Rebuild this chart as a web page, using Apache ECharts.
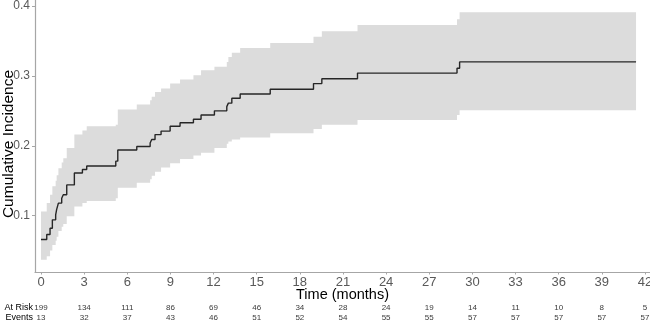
<!DOCTYPE html>
<html>
<head>
<meta charset="utf-8">
<script src="https://cdn.jsdelivr.net/npm/echarts@6/dist/echarts.min.js"></script>
<style>html,body{margin:0;padding:0;background:#fff}#c{width:650px;height:323px}</style>
</head>
<body>
<div id="c"></div>
<script>
// Step times (months) and values
const times    = [0, 0.40, 0.63, 0.79, 1.02, 1.09, 1.21, 1.44, 1.55, 1.79, 2.32, 2.88, 3.18, 5.20, 5.34, 6.66, 7.59, 7.70, 7.93, 8.35, 8.98, 9.67, 10.6, 11.13, 12.06, 12.92, 13.03, 13.27, 13.85, 15.94, 18.95, 19.53, 22.01, 28.93, 29.11, 41.38];
const estimate = [0.066, 0.073, 0.082, 0.094, 0.101, 0.109, 0.118, 0.125, 0.130, 0.144, 0.161, 0.166, 0.171, 0.178, 0.194, 0.199, 0.204, 0.209, 0.216, 0.221, 0.228, 0.233, 0.238, 0.244, 0.250, 0.256, 0.261, 0.268, 0.274, 0.281, 0.289, 0.296, 0.304, 0.311, 0.320, 0.320];
const lower    = [0.037, 0.042, 0.050, 0.058, 0.064, 0.070, 0.078, 0.084, 0.088, 0.099, 0.113, 0.118, 0.121, 0.125, 0.140, 0.147, 0.152, 0.157, 0.163, 0.169, 0.175, 0.181, 0.186, 0.190, 0.197, 0.203, 0.206, 0.209, 0.212, 0.218, 0.224, 0.230, 0.237, 0.244, 0.251, 0.251];
const upper    = [0.106, 0.118, 0.130, 0.142, 0.150, 0.158, 0.168, 0.176, 0.182, 0.197, 0.216, 0.222, 0.228, 0.230, 0.252, 0.259, 0.265, 0.270, 0.277, 0.282, 0.289, 0.295, 0.301, 0.308, 0.313, 0.320, 0.327, 0.333, 0.340, 0.347, 0.356, 0.364, 0.373, 0.381, 0.391, 0.391];

// Risk table
const riskTimes = [0, 3, 6, 9, 12, 15, 18, 21, 24, 27, 30, 33, 36, 39, 42];
const atRisk    = [199, 134, 111, 86, 69, 46, 34, 28, 24, 19, 14, 11, 10, 8, 5];
const events    = [13, 32, 37, 43, 46, 51, 52, 54, 55, 55, 57, 57, 57, 57, 57];
const riskRows  = ['Events', 'At Risk'];

// Tick labels
const xTicks = [0, 3, 6, 9, 12, 15, 18, 21, 24, 27, 30, 33, 36, 39, 42];
const yTicks = [0.1, 0.2, 0.3, 0.4];

const XMIN = -0.417, XMAX = 42.35, YMIN = 0.0194, YMAX = 0.4086;
const FONT = 'Liberation Sans, Arial, sans-serif';

const estData  = times.map((t, i) => [t, estimate[i]]);
const bandData = times.map((t, i) => [t, lower[i], upper[i]]);
const riskData = riskTimes.map((t, i) => [t, 'At Risk', atRisk[i]])
  .concat(riskTimes.map((t, i) => [t, 'Events', events[i]]));

function renderBand(params, api) {
  if (params.dataIndex !== 0) return null;
  const top = [], bot = [];
  for (let i = 0; i < times.length; i++) {
    const a = api.coord([times[i], upper[i]]);
    const b = api.coord([times[i], lower[i]]);
    if (i > 0) {
      top.push([a[0], api.coord([times[i], upper[i - 1]])[1]]);
      bot.push([b[0], api.coord([times[i], lower[i - 1]])[1]]);
    }
    top.push(a);
    bot.push(b);
  }
  return {
    type: 'polygon',
    shape: {points: top.concat(bot.reverse())},
    style: {fill: '#dcdcdc', stroke: null}
  };
}

const chart = echarts.init(document.getElementById('c'), null, {renderer: 'canvas'});
chart.setOption({
  animation: false,
  backgroundColor: '#fff',
  textStyle: {fontFamily: FONT},
  grid: [
    {left: 35, right: 0, top: 0, bottom: 51, containLabel: false, outerBoundsMode: 'none'},
    {left: 35, right: 0, top: 303, height: 20, containLabel: false, outerBoundsMode: 'none'}
  ],
  xAxis: [
    {
      type: 'value', gridIndex: 0, min: XMIN, max: XMAX,
      name: 'Time (months)', nameLocation: 'middle', nameGap: 15, nameMoveOverlap: false,
      nameTextStyle: {fontSize: 14.5, color: '#000', fontFamily: FONT, verticalAlign: 'top'},
      splitLine: {show: false},
      axisLine: {show: true, onZero: false, lineStyle: {color: '#a6a6a6', width: 1.2}},
      axisTick: {show: true, length: 2.5, customValues: xTicks, lineStyle: {color: '#a6a6a6'}},
      axisLabel: {customValues: xTicks, fontSize: 13, color: '#595959', margin: 3.5, fontFamily: FONT}
    },
    {
      type: 'value', gridIndex: 1, min: XMIN, max: XMAX,
      show: false
    }
  ],
  yAxis: [
    {
      type: 'value', gridIndex: 0, min: YMIN, max: YMAX,
      name: 'Cumulative Incidence', nameLocation: 'middle', nameGap: 18, nameMoveOverlap: false,
      nameTextStyle: {fontSize: 15.5, color: '#000', fontFamily: FONT, padding: [0, 16, 0, 0]},
      splitLine: {show: false},
      axisLine: {show: true, onZero: false, lineStyle: {color: '#a6a6a6', width: 1.2}},
      axisTick: {show: true, length: 3, customValues: yTicks, lineStyle: {color: '#a6a6a6'}},
      axisLabel: {customValues: yTicks, fontSize: 12, color: '#595959', margin: 5, fontFamily: FONT,
                  formatter: v => v.toFixed(1)}
    },
    {
      type: 'category', gridIndex: 1, data: riskRows,
      axisLine: {show: false}, axisTick: {show: false}, splitLine: {show: false},
      axisLabel: {interval: 0, fontSize: 9, color: '#000', margin: 2, fontFamily: FONT}
    }
  ],
  series: [
    {
      type: 'custom', xAxisIndex: 0, yAxisIndex: 0,
      data: bandData, encode: {x: 0, y: [1, 2]}, silent: true, z: 1,
      renderItem: renderBand, clip: true
    },
    {
      type: 'line', name: 'estimate', xAxisIndex: 0, yAxisIndex: 0, step: 'end',
      data: estData, symbol: 'none', silent: true, z: 5,
      lineStyle: {color: '#262626', width: 1.4}
    },
    {
      type: 'scatter', xAxisIndex: 1, yAxisIndex: 1,
      data: riskData, encode: {x: 0, y: 1}, symbolSize: 0, silent: true,
      label: {show: true, position: 'inside', fontSize: 8, color: '#000', fontFamily: FONT,
              formatter: p => String(p.value[2])}
    }
  ]
});
</script>
</body>
</html>
